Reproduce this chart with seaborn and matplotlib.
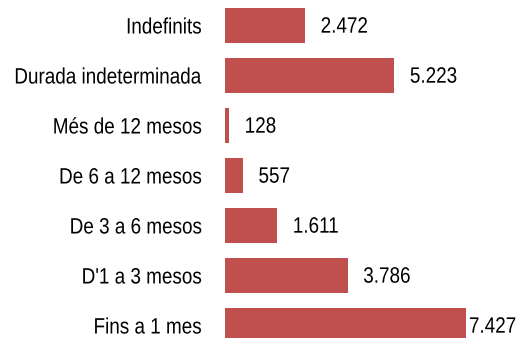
import matplotlib
matplotlib.use("Agg")
import matplotlib.pyplot as plt
import seaborn as sns
import pandas as pd
from matplotlib.patheffects import AbstractPathEffect
from matplotlib.transforms import Affine2D

categories = ["Indefinits", "Durada indeterminada", "Més de 12 mesos",
              "De 6 a 12 mesos", "De 3 a 6 mesos", "D'1 a 3 mesos", "Fins a 1 mes"]
values = [2472, 5223, 128, 557, 1611, 3786, 7427]
value_labels = ["2.472", "5.223", "128", "557", "1.611", "3.786", "7.427"]


class Condensed(AbstractPathEffect):
    """Draw text horizontally narrowed, keeping one edge fixed."""

    def __init__(self, sx=0.85, anchor="left"):
        super().__init__()
        self.sx = sx
        self.anchor = anchor

    def draw_path(self, renderer, gc, tpath, affine, rgbFace=None):
        ext = tpath.get_extents(affine)
        x0 = ext.x1 if self.anchor == "right" else ext.x0
        aff = affine + Affine2D().translate(-x0, 0).scale(self.sx, 1).translate(x0, 0)
        renderer.draw_path(gc, tpath, aff, rgbFace)


sns.set_theme(style="white")
plt.rcParams["font.family"] = ["Liberation Sans", "DejaVu Sans"]

df = pd.DataFrame({"categoria": categories, "valor": values})

W, H = 516, 338
fig = plt.figure(figsize=(W / 100, H / 100), dpi=100)
# axes spans the bar area; the lowest row runs slightly past the bottom edge
ax_left, ax_width = 225 / W, 259.6 / W
ax_top_px, ax_bot_px = 0.5, 350.5
ax = fig.add_axes([ax_left, 1 - ax_bot_px / H, ax_width, (ax_bot_px - ax_top_px) / H])

sns.barplot(data=df, x="valor", y="categoria", orient="h", color="#C0504D",
            saturation=1, width=0.7, edgecolor="none", ax=ax)

ax.set_xlim(0, 8000)
ax.set_ylim(6.5, -0.5)
ax.set_xlabel("")
ax.set_ylabel("")
ax.set_xticks([])
for s in ax.spines.values():
    s.set_visible(False)
ax.tick_params(axis="y", length=0, pad=16.5, labelsize=16, labelcolor="black")
for t in ax.get_yticklabels():
    t.set_path_effects([Condensed(0.85, "right")])

for i, (v, lab) in enumerate(zip(values, value_labels)):
    off = 2 if i == len(values) - 1 else 11
    ax.annotate(lab, xy=(v, i), xytext=(off, -1.2), textcoords="offset points",
                ha="left", va="center", fontsize=16, color="black",
                annotation_clip=False,
                path_effects=[Condensed(0.85, "left")])

fig.savefig("out.png", dpi=100)
